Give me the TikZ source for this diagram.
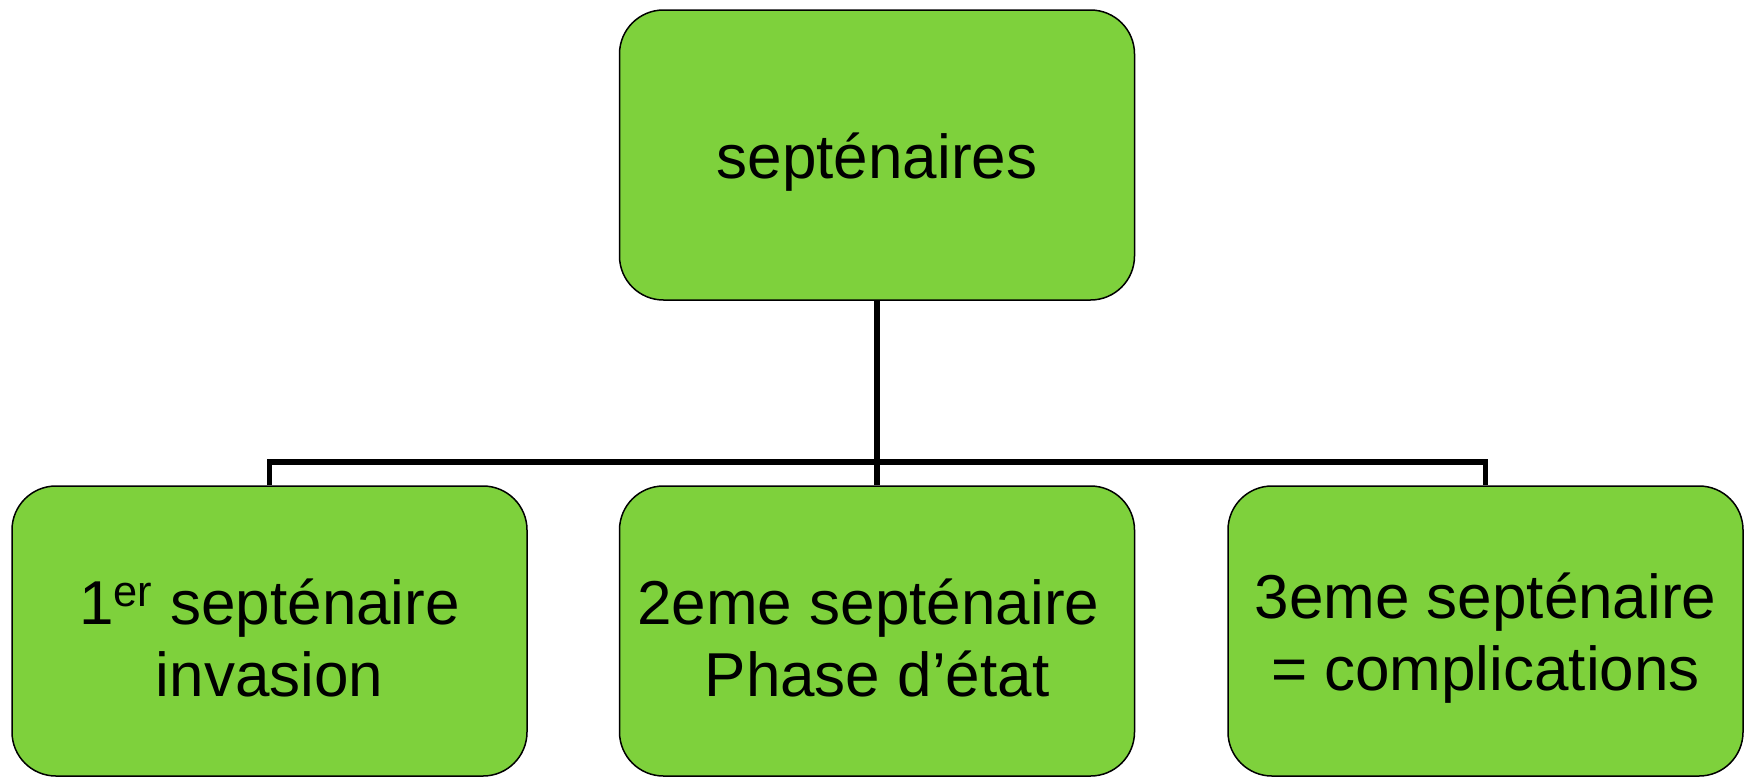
\documentclass[tikz,border=0pt]{standalone}
\usepackage{fontspec}
\setmainfont{Liberation Sans}
\definecolor{boxgreen}{RGB}{126,209,60}
\newcommand{\tallline}{\rule{0pt}{30pt}}

\begin{document}
\begin{tikzpicture}[
  x=0.5pt, y=-0.5pt,
  every node/.style={inner sep=1pt},
  box/.style={draw, line width=0.75pt, fill=boxgreen, rounded corners=22pt,
    minimum width=257.5pt, minimum height=145pt, align=center,
    font=\fontsize{31pt}{36pt}\selectfont},
  edge/.style={draw, line width=2.8pt}]

  \useasboundingbox (0,0) rectangle (1748,777);

  % boxes
  \node[box] (top) at (877, 155) {\tallline septénaires};
  \node[box] (s1)  at (269.5, 631) {\tallline 1\textsuperscript{er} septénaire\\invasion};
  \node[box] (s2)  at (877, 631) {\tallline 2eme septénaire\hspace*{0.28em}\\Phase d’état};
  \node[box] (s3)  at (1485.5, 631) {\tallline 3eme septénaire\\= complications};
  % bus line
  \coordinate (bus) at (877, 462);
  % connectors
  \draw[edge] (top.south) -- (s2.north);
  \draw[edge] (s1.north) |- (bus) -| (s3.north);

\end{tikzpicture}
\end{document}
